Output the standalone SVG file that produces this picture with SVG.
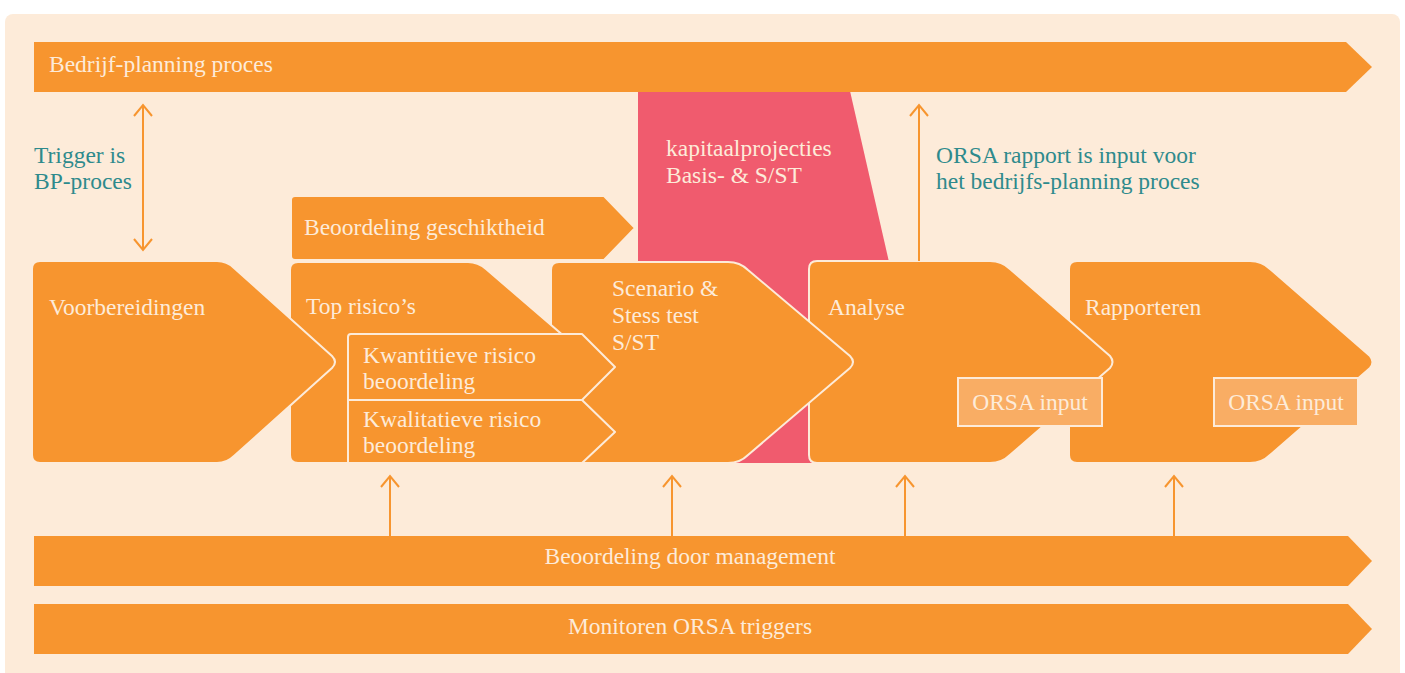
<svg xmlns="http://www.w3.org/2000/svg" width="1405" height="673" viewBox="0 0 1405 673">
<defs>
<style>
.bg{fill:#FDEBD9}
.sh{fill:#F7952F;stroke:#FDEBD9;stroke-width:2;stroke-linejoin:round}
.bar{fill:#F7952F}
.orsa{fill:#F9AD64;stroke:#FDEBD9;stroke-width:2}
.pink{fill:#F05B6E}
.t{font-family:"Liberation Serif","DejaVu Serif",serif;font-size:23.5px;fill:#FDEBD9}
.tc{text-anchor:middle}
.teal{font-family:"Liberation Serif","DejaVu Serif",serif;font-size:23.5px;fill:#2E8A8C}
.ar{stroke:#F7952F;stroke-width:2;fill:none}
</style>
<marker id="ah" markerUnits="userSpaceOnUse" markerWidth="20" markerHeight="20" viewBox="0 0 20 20" refX="13" refY="10" orient="auto-start-reverse">
<path d="M2,1 L13,10 L2,19" fill="none" stroke="#F7952F" stroke-width="2"/>
</marker>
</defs>
<rect x="0" y="0" width="1405" height="673" fill="#FFFFFF"/>
<rect class="bg" x="5" y="14" width="1395" height="675" rx="8"/>

<g id="pink">
<polygon class="pink" points="638,91 850,91 889,262 889,463 638,463"/>
<text class="t" x="666" y="156">kapitaalprojecties</text>
<text class="t" x="666" y="183">Basis- &amp; S/ST</text>
</g>

<g id="bedrijf-planning">
<polygon class="bar" points="34,42 1346,42 1372,67 1346,92 34,92"/>
<text class="t" x="49" y="72">Bedrijf-planning proces</text>
</g>

<g id="beoordeling-management">
<polygon class="bar" points="34,536 1348,536 1372,561 1348,586 34,586"/>
<text class="t tc" x="690" y="564">Beoordeling door management</text>
</g>

<g id="monitoren">
<polygon class="bar" points="34,604 1348,604 1372,629 1348,654 34,654"/>
<text class="t tc" x="690" y="634">Monitoren ORSA triggers</text>
</g>

<g id="beoordeling-geschiktheid">
<path class="sh" d="M295,196 H604 L635,228 L604,260 H295 Q291,260 291,256 V200 Q291,196 295,196 Z"/>
<text class="t" x="304" y="235">Beoordeling geschiktheid</text>
</g>

<g id="rapporteren">
<path class="sh" d="M1077,261 H1250 Q1262,261 1270,269 L1370,356 Q1375,362 1370,368 L1270,455 Q1262,463 1250,463 H1077 Q1069,463 1069,455 V269 Q1069,261 1077,261 Z"/>
<text class="t" x="1085" y="315">Rapporteren</text>
<rect class="orsa" x="1214" y="378" width="144" height="48"/>
<text class="t tc" x="1286" y="410">ORSA input</text>
</g>

<g id="analyse">
<path class="sh" d="M817,261 H990 Q1002,261 1010,269 L1110,356 Q1115,362 1110,368 L1010,455 Q1002,463 990,463 H817 Q809,463 809,455 V269 Q809,261 817,261 Z"/>
<text class="t" x="828" y="315">Analyse</text>
<rect class="orsa" x="958" y="378" width="144" height="48"/>
<text class="t tc" x="1030" y="410">ORSA input</text>
</g>

<g id="scenario">
<path class="sh" d="M559,262 H728 Q740,262 748,270 L850,356 Q856,362 850,368 L748,455 Q740,463 728,463 H559 Q551,463 551,455 V270 Q551,262 559,262 Z"/>
<text class="t" x="612" y="296">Scenario &amp;</text>
<text class="t" x="612" y="323">Stess test</text>
<text class="t" x="612" y="350">S/ST</text>
</g>

<g id="top-risicos">
<path class="sh" d="M298,262 H468 Q478,262 486,269 L594,362 L486,463 H298 Q290,463 290,455 V270 Q290,262 298,262 Z"/>
<text class="t" x="306" y="314">Top risico’s</text>
</g>

<g id="kwantitieve">
<path class="sh" d="M351,334 H582 L615,367 L582,400 H348 V337 Q348,334 351,334 Z"/>
<text class="t" x="363" y="363">Kwantitieve risico</text>
<text class="t" x="363" y="389">beoordeling</text>
</g>

<g id="kwalitatieve">
<path class="sh" d="M348,400 H582 L615,432 L582,463 H348 Z"/>
<text class="t" x="363" y="427">Kwalitatieve risico</text>
<text class="t" x="363" y="453">beoordeling</text>
</g>

<g id="voorbereidingen">
<path class="sh" d="M40,261 H217 Q227,261 234,268 L332,356 Q338,362 332,368 L234,456 Q227,463 217,463 H40 Q32,463 32,455 V269 Q32,261 40,261 Z"/>
<text class="t" x="49" y="315">Voorbereidingen</text>
</g>

<g id="labels">
<text class="teal" x="34" y="163">Trigger is</text>
<text class="teal" x="34" y="189">BP-proces</text>
<text class="teal" x="936" y="163">ORSA rapport is input voor</text>
<text class="teal" x="936" y="189">het bedrijfs-planning proces</text>
</g>

<g id="connectors">
<line class="ar" x1="143" y1="250" x2="143" y2="105" marker-start="url(#ah)" marker-end="url(#ah)"/>
<line class="ar" x1="919" y1="261" x2="919" y2="105" marker-end="url(#ah)"/>
<line class="ar" x1="390" y1="536" x2="390" y2="476" marker-end="url(#ah)"/>
<line class="ar" x1="672" y1="536" x2="672" y2="476" marker-end="url(#ah)"/>
<line class="ar" x1="905" y1="536" x2="905" y2="476" marker-end="url(#ah)"/>
<line class="ar" x1="1174" y1="536" x2="1174" y2="476" marker-end="url(#ah)"/>
</g>
</svg>
